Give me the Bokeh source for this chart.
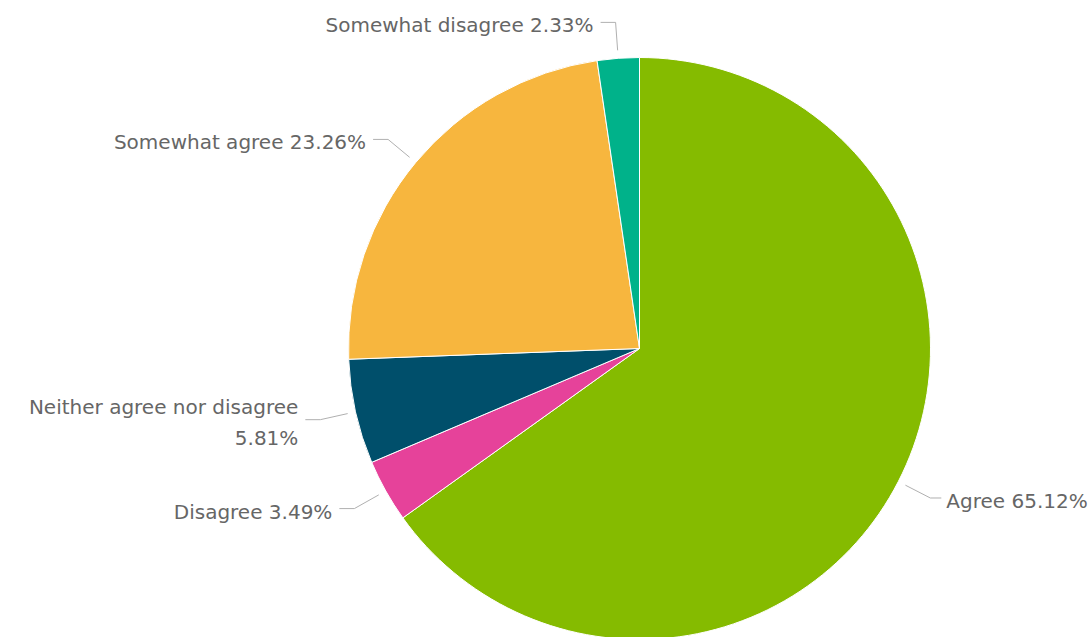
import math
import pandas as pd
from bokeh.plotting import figure
from bokeh.models import Range1d, ColumnDataSource
from bokeh.embed import file_html
from bokeh.resources import INLINE
from bokeh.core.properties import value

categories = ["Agree", "Disagree", "Neither agree nor disagree", "Somewhat agree", "Somewhat disagree"]
percents = [65.12, 3.49, 5.81, 23.26, 2.33]
colors = ["#85BB00", "#E6429A", "#004F6B", "#F7B63E", "#00B28A"]
label_texts = ["Agree 65.12%", "Disagree 3.49%", "Neither agree nor disagree\n5.81%",
               "Somewhat agree 23.26%", "Somewhat disagree 2.33%"]

W, H = 1091, 637
CX, CY, R = 639, H - 348, 291
LINE_GAP = 31

df = pd.DataFrame({"cat": categories, "pct": percents, "color": colors, "label": label_texts})
total = df["pct"].sum()
df["end_frac"] = df["pct"].cumsum() / total
df["start_frac"] = df["end_frac"] - df["pct"] / total
# clockwise from 12 o'clock
df["start_angle"] = math.pi / 2 - df["start_frac"] * 2 * math.pi
df["end_angle"] = math.pi / 2 - df["end_frac"] * 2 * math.pi
df["mid"] = (df["start_angle"] + df["end_angle"]) / 2

p = figure(width=W, height=H, output_backend="svg", toolbar_location=None,
           x_range=Range1d(0, W), y_range=Range1d(0, H), min_border=0)
p.axis.visible = False
p.grid.visible = False
p.outline_line_color = None
p.background_fill_color = "white"

src = ColumnDataSource(df)
p.wedge(x=CX, y=CY, radius=R, start_angle="start_angle", end_angle="end_angle",
        direction="clock", fill_color="color", line_color="white", line_width=1, source=src)

# connectors and labels
xs, ys, tx, ty, ta, tt = [], [], [], [], [], []
for _, row in df.iterrows():
    a = row["mid"]
    c, s = math.cos(a), math.sin(a)
    x0, y0 = CX + (R + 8) * c, CY + (R + 8) * s
    x1, y1 = CX + (R + 36) * c, CY + (R + 36) * s
    side = 1 if c >= 0 else -1
    seg, gap = (11, 5) if side > 0 else (15, 7)
    x2 = x1 + side * seg
    xs.append([x0, x1, x2])
    ys.append([y0, y1, y1])
    lines = row["label"].split("\n")
    n = len(lines)
    top = y1 - 3 + (n - 1) * LINE_GAP / 2
    for i, ln in enumerate(lines):
        tx.append(x2 + side * gap)
        ty.append(top - i * LINE_GAP)
        ta.append("left" if side > 0 else "right")
        tt.append(ln)

p.multi_line(xs=xs, ys=ys, line_color="#B0B0B0", line_width=1)
lsrc = ColumnDataSource(dict(x=tx, y=ty, text=tt, align=ta))
p.text(x="x", y="y", text="text", text_align="align", text_baseline="middle",
       text_font=value("DejaVu Sans"), text_font_size="20px", text_color="#666666",
       source=lsrc)

open("out.html", "w").write(file_html(p, INLINE))
